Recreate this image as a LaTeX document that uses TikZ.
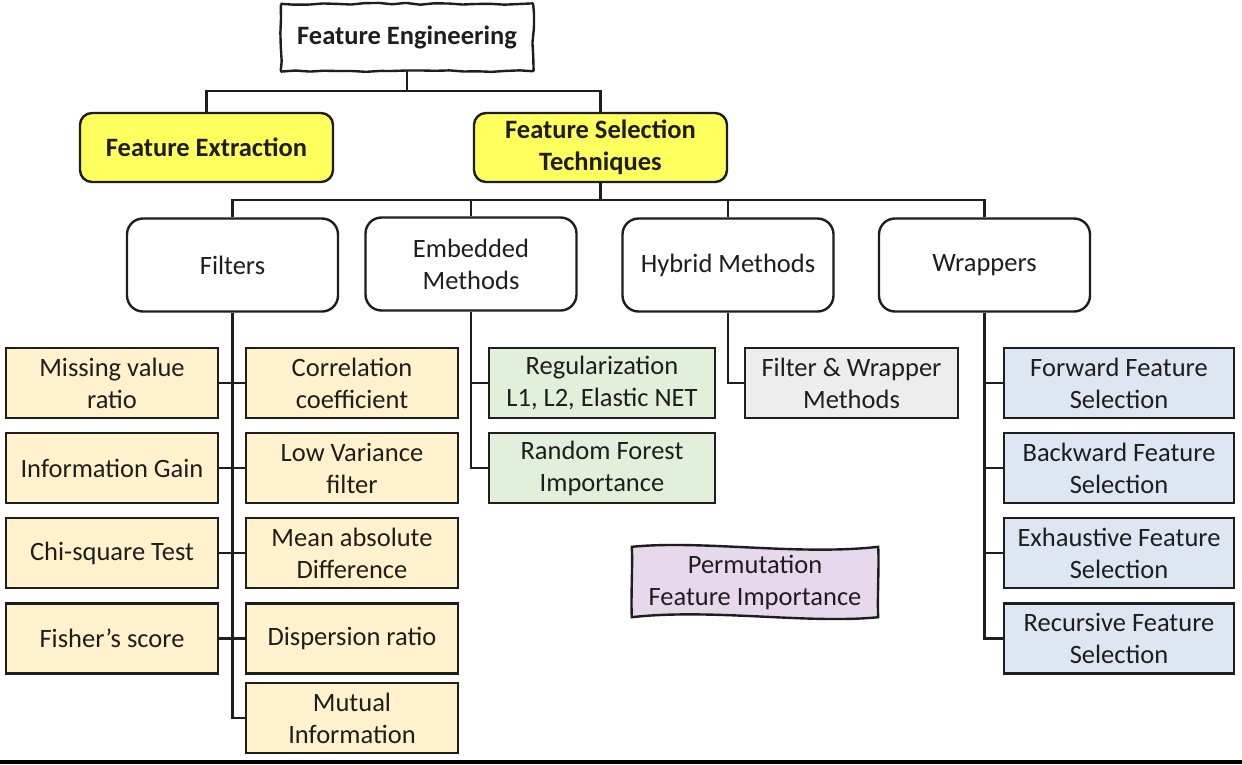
\documentclass[tikz,border=0pt]{standalone}
\usepackage{fontspec}
\setmainfont{Carlito}
\usetikzlibrary{decorations.pathmorphing,backgrounds}
\definecolor{ybox}{HTML}{FFFF5E}
\definecolor{beige}{HTML}{FFF2CC}
\definecolor{gbox}{HTML}{E2EFDA}
\definecolor{greybox}{HTML}{EDEDED}
\definecolor{bbox}{HTML}{DEE6F1}
\definecolor{lav}{HTML}{E8D8EC}
\definecolor{ink}{HTML}{1E1E1E}
\begin{document}
\begin{tikzpicture}[x=1pt,y=-1pt,
  base/.style={font=\fontsize{26.5}{32}\selectfont, text=ink, align=center, inner sep=0pt, line width=2.4pt},
  topbox/.style={base, font=\fontsize{26.5}{32}\selectfont\bfseries, draw=ink, fill=ybox, rounded corners=12pt, minimum width=253pt, minimum height=69pt},
  midbox/.style={base, draw=ink, fill=white, rounded corners=16pt, minimum width=211pt, minimum height=93pt},
  leafbox/.style={base, draw=ink, minimum height=70pt},
  filt/.style={leafbox, fill=beige, minimum width=212pt},
  emb/.style={leafbox, fill=gbox, minimum width=226pt},
  hyb/.style={leafbox, fill=greybox, minimum width=213pt},
  wrp/.style={leafbox, fill=bbox, minimum width=230pt},
  conn/.style={draw=ink, line width=2.4pt}
]
\begin{scope}[on background layer]
\fill[white] (0,0) rectangle (1242,764);
\end{scope}
\useasboundingbox (0,0) rectangle (1242,764);

% level 0
\node[base, font=\fontsize{26.5}{32}\selectfont\bfseries, minimum width=250pt, minimum height=65pt] (FE) at (407,37.5) {Feature Engineering};
\pgfmathsetseed{7}
\draw[draw=ink, line width=2.4pt, rounded corners=0.8pt, decorate, decoration={random steps, segment length=14pt, amplitude=0.9pt}]
  (FE.north west) rectangle (FE.south east);

% level 1
\node[topbox] (FX) at (206.5,147.5) {Feature Extraction};
\node[topbox] (FST) at (600.5,147.5) {Feature Selection\\Techniques};

% level 2
\node[midbox] (FIL) at (232.5,265) {Filters};
\node[midbox] (EMB) at (471,264) {Embedded\\Methods};
\node[midbox] (HYB) at (728,265) {Hybrid Methods};
\node[midbox] (WRP) at (984.5,265) {Wrappers};

% filter leaves
\node[filt] (MVR) at (112,383) {Missing value\\ratio};
\node[filt] (IG)  at (112,468) {Information Gain};
\node[filt] (CST) at (112,553) {Chi-square Test};
\node[filt] (FS)  at (112,638.5) {Fisher’s score};
\node[filt] (CC)  at (352,383) {Correlation\\coefficient};
\node[filt] (LVF) at (352,468) {Low Variance\\filter};
\node[filt] (MAD) at (352,553) {Mean absolute\\Difference};
\node[filt] (DR)  at (352,638.5) {Dispersion ratio};
\node[filt] (MI)  at (352,718) {Mutual\\Information};

% embedded leaves
\node[emb] (REG) at (602,383) {Regularization\\L1, L2, Elastic NET};
\node[emb] (RFI) at (602,468) {Random Forest\\Importance};

% hybrid leaf
\node[hyb] (FWM) at (851.5,383) {Filter \& Wrapper\\Methods};

% wrapper leaves
\node[wrp] (FFS) at (1119,383) {Forward Feature\\Selection};
\node[wrp] (BFS) at (1119,468) {Backward Feature\\Selection};
\node[wrp] (EFS) at (1119,553) {Exhaustive Feature\\Selection};
\node[wrp] (RFS) at (1119,638.5) {Recursive Feature\\Selection};

% permutation
\node[base, minimum width=244pt, minimum height=68pt] (PFI) at (755,582) {Permutation\\Feature Importance};
\begin{scope}[on background layer]
\draw[draw=ink, line width=2.4pt, fill=lav]
  (PFI.north west) .. controls +(70,-7) and +(-80,9) .. (PFI.north east)
  .. controls +(1,20) and +(-1,-20) .. (PFI.south east)
  .. controls +(-70,7) and +(80,-9) .. (PFI.south west)
  .. controls +(-1,-20) and +(1,20) .. cycle;
\end{scope}

% junctions
\coordinate (J1) at (407,91);
\coordinate (J2) at (600.5,200);

\draw[conn] (FE.south) -- (J1);
\draw[conn] (FX.north) |- (J1) -| (FST.north);
\draw[conn] (FST.south) -- (J2);
\draw[conn] (FIL.north) |- (J2) -| (WRP.north);
\draw[conn] (EMB.north) |- (J2);
\draw[conn] (HYB.north) |- (J2);

\draw[conn] (FIL.south) |- (MI.west);
\draw[conn] (MVR.east) -- (CC.west);
\draw[conn] (IG.east) -- (LVF.west);
\draw[conn] (CST.east) -- (MAD.west);
\draw[conn] (FS.east) -- (DR.west);

\draw[conn] (EMB.south) |- (RFI.west);
\draw[conn] (EMB.south |- REG.west) -- (REG.west);

\draw[conn] (HYB.south) |- (FWM.west);

\draw[conn] (WRP.south) |- (RFS.west);
\draw[conn] (WRP.south |- FFS.west) -- (FFS.west);
\draw[conn] (WRP.south |- BFS.west) -- (BFS.west);
\draw[conn] (WRP.south |- EFS.west) -- (EFS.west);

% bottom rule
\fill[black] (0,760) rectangle (1242,764);
\end{tikzpicture}
\end{document}
